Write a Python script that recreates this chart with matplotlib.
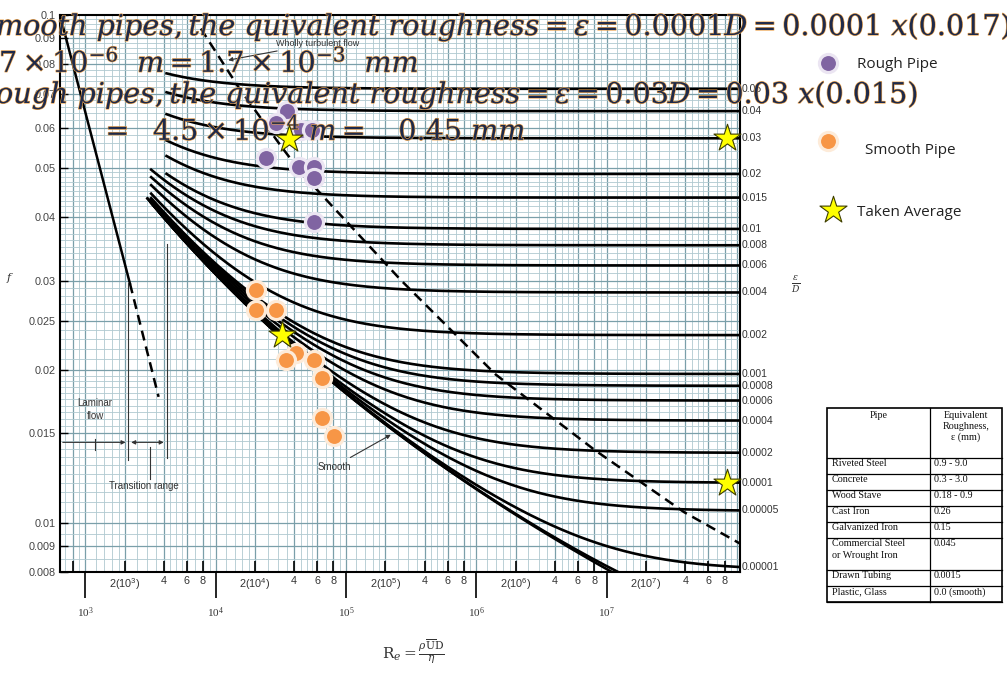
import numpy as np
import matplotlib
matplotlib.use('Agg')
import matplotlib.pyplot as plt
from matplotlib import patheffects as pe

plt.rcParams['font.family'] = ['Liberation Sans', 'DejaVu Sans']
plt.rcParams['mathtext.fontset'] = 'dejavuserif'

W, H = 1007, 673

# relative roughness curves labelled on the right edge
eps_d = [0.05, 0.04, 0.03, 0.02, 0.015, 0.01, 0.008, 0.006, 0.004, 0.002,
         0.001, 0.0008, 0.0006, 0.0004, 0.0002, 0.0001, 0.00005, 0.00001]
eps_labels = ['0.05', '0.04', '0.03', '0.02', '0.015', '0.01', '0.008', '0.006',
              '0.004', '0.002', '0.001', '0.0008', '0.0006', '0.0004', '0.0002',
              '0.0001', '0.00005', '0.00001']
# unlabelled curves near the smooth limit
extra_eps = [0.000001, 0.0]

# wholly turbulent boundary (dashed line)
wt_re = [7.7e3, 1.5e4, 3.2e4, 4.5e4, 2.65e5, 1.4e6, 8.1e6, 3.9e7, 1.05e8]
wt_f = [0.094, 0.072, 0.055, 0.049, 0.030, 0.0196, 0.0139, 0.0105, 0.0091]

# laminar line
lam_re = [640, 2200]
lam_f = [0.100, 0.0296]
lam_dash_re = [2200, 3650]
lam_dash_f = [0.0296, 0.0177]

# measured points
rough_re = [35200, 28900, 45100, 54700, 24200, 43500, 56700, 56700, 56700]
rough_f = [0.0646, 0.0614, 0.0594, 0.0594, 0.0523, 0.0502, 0.0502, 0.0477, 0.0391]
smooth_re = [20300, 20300, 28900, 41200, 34500, 56700, 65400, 65400, 80900]
smooth_f = [0.0288, 0.0262, 0.0263, 0.0216, 0.0209, 0.0209, 0.0193, 0.0161, 0.0148]
avg_re = [36500, 32200, 8.4e7, 8.4e7]
avg_f = [0.0571, 0.0234, 0.0572, 0.0120]

# roughness table
pipe_names = ['Riveted Steel', 'Concrete', 'Wood Stave', 'Cast Iron', 'Galvanized Iron',
              'Commercial Steel\nor Wrought Iron', 'Drawn Tubing', 'Plastic, Glass']
pipe_rough = ['0.9 - 9.0', '0.3 - 3.0', '0.18 - 0.9', '0.26', '0.15', '0.045',
              '0.0015', '0.0 (smooth)']

formula_lines = [
    r'$mooth\ pipes, the\ quivalent\ roughness = \epsilon = 0.0001D = 0.0001\ x(0.017)$',
    r'$7 \times 10^{-6}\ \ m = 1.7 \times 10^{-3}\ \ mm$',
    r'$ough\ pipes, the\ quivalent\ roughness = \epsilon = 0.03D = 0.03\ x(0.015)$',
    r'$=\ \ 4.5 \times 10^{-4}\ m =\ \ \ 0.45\ mm$',
]


def colebrook(re, e):
    f = np.full_like(re, 0.02)
    for _ in range(60):
        f = (-2 * np.log10(e / 3.7 + 2.51 / (re * np.sqrt(f)))) ** -2
    return f


fig = plt.figure(figsize=(W / 100, H / 100), dpi=100)
fig.patch.set_facecolor('white')
ax = fig.add_axes([60 / W, 1 - 572 / H, 680 / W, 557 / H])
ax.set_xscale('log')
ax.set_yscale('log')
xmin, xmax = 640, 1.05e8
ax.set_xlim(xmin, xmax)
ax.set_ylim(0.008, 0.1)

# graph paper grid
subs = [1, 1.2, 1.4, 1.6, 1.8, 2, 2.5, 3, 3.5, 4, 4.5, 5, 5.5, 6, 7, 8, 9]
for d in range(2, 9):
    for m in subs:
        x = m * 10 ** d
        if xmin < x < xmax:
            strong = m in (1, 2, 4, 6, 8)
            ax.axvline(x, color='#7a9fa9' if strong else '#afc9d0',
                       lw=0.9 if strong else 0.6, zorder=0)
hlines = np.concatenate([np.arange(0.0085, 0.02, 0.0005), np.arange(0.02, 0.05, 0.001),
                         np.arange(0.05, 0.1, 0.002)])
yticks = [0.008, 0.009, 0.01, 0.015, 0.02, 0.025, 0.03, 0.04, 0.05, 0.06, 0.07, 0.08, 0.09, 0.1]
for y in hlines:
    strong = any(abs(y - t) < 1e-6 for t in yticks)
    ax.axhline(y, color='#7a9fa9' if strong else '#afc9d0',
               lw=0.9 if strong else 0.6, zorder=0)

# friction factor curves
for e, lab in zip(eps_d, eps_labels):
    start = 4200 if e >= 0.01 else 3200
    re = np.logspace(np.log10(start), np.log10(xmax), 400)
    f = colebrook(re, e)
    ax.plot(re, f, color='black', lw=1.9, zorder=2)
    ax.text(1.003, f[-1], lab, transform=ax.get_yaxis_transform(), ha='left',
            va='center', fontsize=7.5, color='#333333')
for e in extra_eps:
    re = np.logspace(np.log10(3000), np.log10(xmax), 400)
    ax.plot(re, colebrook(re, e), color='black', lw=1.9, zorder=2)

ax.plot(wt_re, wt_f, color='black', lw=1.8, ls=(0, (4, 2.5)), zorder=2)
ax.plot(lam_re, lam_f, color='black', lw=1.8, zorder=2)
ax.plot(lam_dash_re, lam_dash_f, color='black', lw=1.8, ls=(0, (4, 2.5)), zorder=2)

# flow regime annotations
ax.plot([2140, 2140], [0.0296, 0.0133], color='#333333', lw=0.8, zorder=2)
ax.plot([4200, 4200], [0.0354, 0.0134], color='#333333', lw=0.8, zorder=2)
ax.plot([1190, 1190], [0.0146, 0.0139], color='#333333', lw=0.8, zorder=2)
ax.plot([3160, 3160], [0.0141, 0.0122], color='#333333', lw=0.8, zorder=2)
ax.annotate('', xy=(2140, 0.0144), xytext=(xmin, 0.0144),
            arrowprops=dict(arrowstyle='-|>', lw=0.8, color='#333333', mutation_scale=6))
ax.annotate('', xy=(4200, 0.0144), xytext=(2140, 0.0144),
            arrowprops=dict(arrowstyle='<|-|>', lw=0.8, color='#333333', mutation_scale=6))
ax.text(1190, 0.0167, 'Laminar\nflow', ha='center', va='center', fontsize=7,
        color='#333333', linespacing=1.3)
ax.text(2790, 0.0118, 'Transition range', ha='center', va='center', fontsize=7,
        color='#333333')
ax.annotate('Smooth', xy=(2.3e5, 0.0150), xytext=(80900, 0.0129), ha='center',
            va='center', fontsize=7, color='#333333',
            arrowprops=dict(arrowstyle='-|>', lw=0.8, color='#333333', mutation_scale=6,
                            shrinkA=2))
ax.annotate('Wholly turbulent flow', xy=(11900, 0.0813), xytext=(28900, 0.0879),
            ha='left', va='center', fontsize=6.5, color='#333333',
            arrowprops=dict(arrowstyle='-|>', lw=0.8, color='#333333', mutation_scale=6,
                            shrinkA=1))

# measured data
ax.scatter(rough_re, rough_f, s=170, color='#8064a2', edgecolor='#ebe5f2', lw=2.3, zorder=4)
ax.scatter(smooth_re, smooth_f, s=170, color='#f79646', edgecolor='#fdebd9', lw=2.3, zorder=4)
ax.scatter(avg_re, avg_f, s=420, marker='*', color='#ffff00', edgecolor='#3d3d00',
           lw=0.8, zorder=6, clip_on=False)

# axes ticks
ax.set_yticks(yticks)
ax.set_yticklabels(['0.008', '0.009', '0.01', '0.015', '0.02', '0.025', '0.03', '0.04',
                    '0.05', '0.06', '0.07', '0.08', '0.09', '0.1'])
ax.yaxis.set_minor_locator(matplotlib.ticker.NullLocator())
ax.tick_params(axis='y', direction='in', length=6, width=1, labelsize=7.8,
               labelcolor='#444444', pad=3)
major_x = [1e3, 1e4, 1e5, 1e6, 1e7]
ax.set_xticks(major_x)
ax.set_xticklabels([r'$\mathregular{10^{%d}}$' % k for k in range(3, 8)],
                   family=['Liberation Serif', 'DejaVu Serif'])
minor_x = [8e2]
minor_lab = ['']
for d in range(3, 8):
    for m in (2, 4, 6, 8):
        minor_x.append(m * 10 ** d)
        minor_lab.append(r'$\mathregular{2(10^{%d})}$' % d if m == 2 else str(m))
ax.set_xticks(minor_x, minor=True)
ax.set_xticklabels(minor_lab, minor=True)
ax.tick_params(axis='x', which='major', direction='out', length=19, width=1.2,
               labelsize=8, labelcolor='#333333', pad=5)
ax.tick_params(axis='x', which='minor', direction='in', length=8, width=1.2,
               labelsize=7.8, labelcolor='#333333', pad=3)
for s in ax.spines.values():
    s.set_linewidth(1.5)

fig.text(10 / W, 1 - 278 / H, r'$f$', fontsize=8, ha='center', va='center', color='#333333')
fig.text(796 / W, 1 - 285 / H, r'$\frac{\epsilon}{D}$', fontsize=9.5, ha='center',
         va='center', color='#333333')
fig.text(413 / W, 1 - 652 / H, r'$\mathrm{R}_e = \frac{\rho\overline{\mathrm{U}}\mathrm{D}}{\eta}$',
         fontsize=11, ha='center', va='center', color='#333333')

# formula overlay text
halo = [pe.withStroke(linewidth=0.9, foreground='#eaa14a')]
base_pos = [(-4, 35), (-1, 72), (-4, 103), (100, 140)]
for txt, (x, y) in zip(formula_lines, base_pos):
    ax.text(x / W, 1 - y / H, txt, transform=fig.transFigure, fontsize=20.6,
            ha='left', va='baseline', color='#1e2a4a', zorder=5, clip_on=False,
            path_effects=halo)

# legend and table in pixel coordinates
ov = fig.add_axes([0, 0, 1, 1])
ov.set_xlim(0, W)
ov.set_ylim(H, 0)
ov.axis('off')
ov.scatter([828], [63], s=170, color='#8064a2', edgecolor='#ebe5f2', lw=2.3)
ov.scatter([828], [141], s=170, color='#f79646', edgecolor='#fdebd9', lw=2.3)
ov.scatter([833], [210], s=420, marker='*', color='#ffff00', edgecolor='#3d3d00', lw=0.8)
ov.text(857, 64, 'Rough Pipe', fontsize=11, family='Open Sans', va='center', color='#222222')
ov.text(865, 151, 'Smooth Pipe', fontsize=11, family='Open Sans', va='center', color='#222222')
ov.text(857, 212, 'Taken Average', fontsize=11, family='Open Sans', va='center', color='#222222')

tl, tm, tr = 827, 930, 1002
top, head_bot = 408, 458
row_h = [16, 16, 16, 16, 16, 32, 16, 16]
ov.add_patch(plt.Rectangle((tl, top), tr - tl, head_bot + sum(row_h) - top,
                           fill=True, facecolor='white', edgecolor='black', lw=1.2))
ov.plot([tm, tm], [top, head_bot + sum(row_h)], color='black', lw=0.9)
ov.plot([tl, tr], [head_bot, head_bot], color='black', lw=0.9)
tfont = dict(family=['Liberation Serif', 'DejaVu Serif'], fontsize=7.3, color='#111111')
ov.text((tl + tm) / 2, top + 3, 'Pipe', ha='center', va='top', **tfont)
ov.text((tm + tr) / 2, top + 3, 'Equivalent\nRoughness,\n\u03b5 (mm)', ha='center',
        va='top', linespacing=1.25, **tfont)
y = head_bot
for name, val, h in zip(pipe_names, pipe_rough, row_h):
    ov.text(tl + 5, y + 1.5, name, ha='left', va='top', linespacing=1.3, **tfont)
    ov.text(tm + 4, y + 1.5, val, ha='left', va='top', **tfont)
    y += h
    ov.plot([tl, tr], [y, y], color='black', lw=0.9)

fig.savefig('out.png', dpi=100)
